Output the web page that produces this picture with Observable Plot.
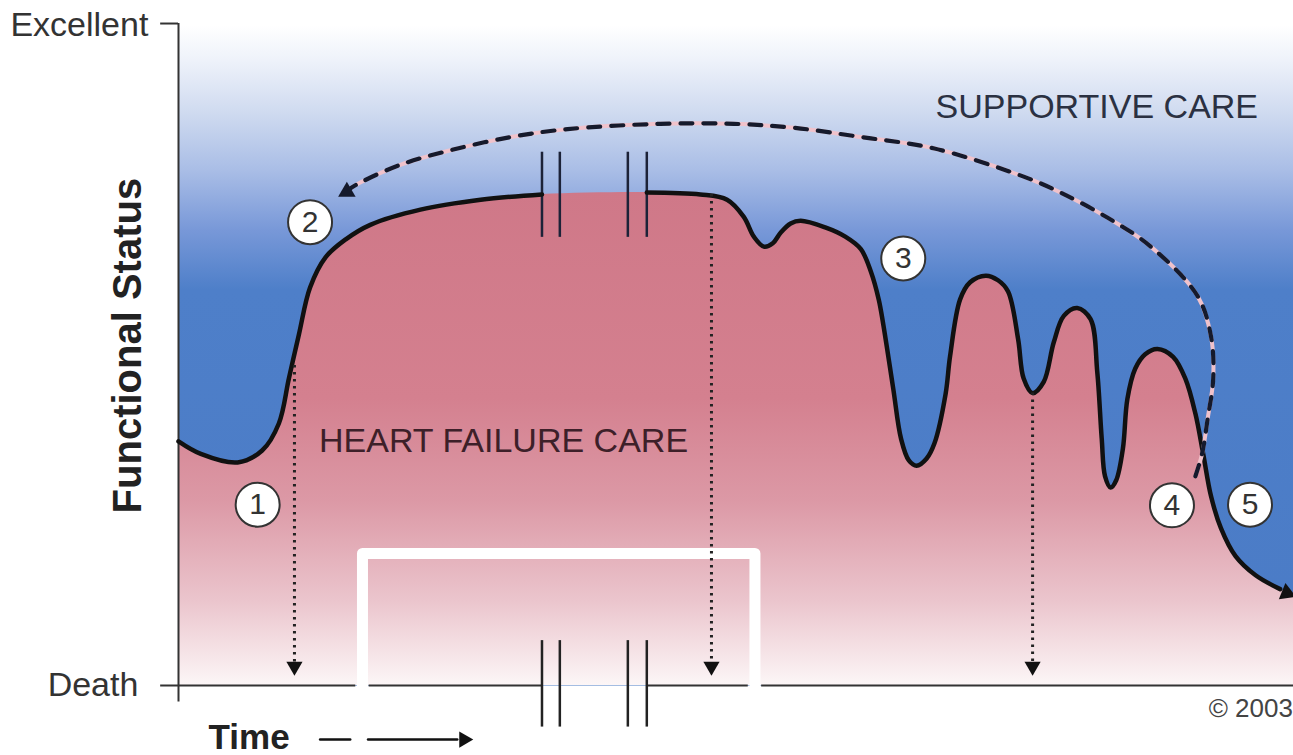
<!DOCTYPE html>
<html><head><meta charset="utf-8">
<script src="https://cdn.jsdelivr.net/npm/d3@7"></script>
<script src="https://cdn.jsdelivr.net/npm/@observablehq/plot@0.6"></script>
<style>html,body{margin:0;padding:0;background:#fff;} #chart svg{display:block;}</style>
</head><body><div id="chart"></div>
<script>
// Functional status trajectory (time 0..100, status 0 = Death .. 100 = Excellent)
const curveTime = [0, 2.0, 5.3, 7.5, 9.0, 9.9, 10.8, 11.8, 13.2, 15.0, 17.2, 21.7, 27.1, 32.6, 42.0, 46.8, 49.2, 50.7, 51.6, 52.5, 53.3, 54.0, 54.9, 55.8, 58.0, 59.8, 61.2, 62.1, 62.8, 63.2, 64.1, 64.8, 65.5, 66.2, 67.1, 67.8, 68.8, 69.2, 70.1, 71.0, 72.4, 73.5, 74.4, 75.3, 75.8, 76.6, 77.6, 78.5, 79.4, 80.6, 81.8, 82.4, 82.8, 83.1, 83.6, 84.1, 84.7, 85.1, 85.8, 86.7, 87.8, 89.2, 90.3, 91.2, 91.9, 92.6, 93.5, 94.8, 96.6, 98.8, 100.0];
const curveStatus = [37.0, 35.1, 33.8, 35.6, 39.7, 46.5, 53.2, 60.3, 64.9, 67.6, 69.8, 72.1, 73.6, 74.4, 74.7, 74.4, 73.6, 71.0, 68.0, 66.5, 67.0, 68.6, 70.0, 70.4, 69.4, 68.0, 66.1, 62.7, 58.5, 54.8, 45.0, 37.4, 34.1, 33.3, 34.4, 36.7, 44.2, 49.9, 58.5, 61.1, 62.1, 61.4, 59.7, 52.5, 46.5, 44.3, 46.0, 52.0, 56.0, 57.2, 55.5, 47.5, 37.4, 31.7, 30.0, 31.1, 35.9, 43.4, 48.0, 50.2, 51.0, 49.8, 46.5, 41.2, 35.1, 28.7, 23.8, 19.6, 16.7, 14.6, 13.7];
// time-axis break (stable period)
const breakTimes = [32.6, 34.2, 40.3, 42.0];
// supportive-care dashed arc
const arcTime = [91.2, 91.8, 92.3, 92.8, 92.6, 91.4, 87.2, 83.3, 79.1, 75.8, 67.7, 61.2, 55.2, 49.8, 43.2, 34.9, 29.8, 24.4, 19.9, 16.3, 15.4];
const arcStatus = [31.7, 35.1, 40.4, 46.5, 52.9, 59.0, 66.5, 70.9, 74.7, 77.1, 81.4, 83.1, 84.5, 85.1, 85.1, 84.3, 83.1, 81.1, 78.9, 76.2, 75.3];
// dotted drops to the time axis
const dropTime = [10.4, 47.8, 76.6];
const dropStatus = [48.5, 74.4, 44.3];
// numbered stages
const stageLabels = ["1", "2", "3", "4", "5"];
const stageTime = [7.1, 11.8, 65.0, 89.1, 96.1];
const stageStatus = [27.4, 70.2, 64.7, 27.3, 27.4];
// y tick labels
const yTickLabels = ["Excellent", "Death"];
const yTickValues = [100, 0];

const curve = curveTime.map((t, i) => ({t, s: curveStatus[i], seg: t <= breakTimes[0] ? "a" : "b"}));
const arc = arcTime.map((t, i) => ({t, s: arcStatus[i]}));
const drops = dropTime.map((t, i) => ({t, s: dropStatus[i]}));
const stages = stageLabels.map((label, i) => ({label, t: stageTime[i], s: stageStatus[i]}));
const ticks = yTickLabels.map((label, i) => ({label, s: yTickValues[i], off: i === 0 ? -2.7 : -3.6}));
const lineCurve = curve.slice(0, -1);
const last = curve[curve.length - 1];
const arcEnd = arc[arc.length - 1];

const font = "'Liberation Sans', Arial, Helvetica, sans-serif";

const plot = Plot.plot({
  width: 1293, height: 755,
  marginLeft: 178, marginRight: 0, marginTop: 25, marginBottom: 70,
  x: {domain: [0, 100], axis: null},
  y: {domain: [0, 100], axis: null},
  style: {fontFamily: font, background: "white", overflow: "visible"},
  marks: [
    Plot.frame({fill: "url(#blueGrad)", stroke: "none"}),
    Plot.areaY(curve, {x: "t", y: "s", fill: "url(#pinkGrad)", curve: "catmull-rom"}),
    // white bracket box
    Plot.line([{t:16.5,s:-1.8},{t:16.5,s:20},{t:51.7,s:20},{t:51.7,s:-1.8}], {x:"t", y:"s", stroke:"white", strokeWidth:11, strokeLinejoin:"round"}),
    // axes
    Plot.ruleX([0], {y1: -2.5, y2: 100.3, stroke: "#333", strokeWidth: 2}),
    Plot.ruleY([100.3], {x1: -1.6, x2: 0, stroke: "#333", strokeWidth: 2}),
    Plot.ruleY([0], {x1: -1.6, x2: 15.9, stroke: "#333", strokeWidth: 2}),
    Plot.ruleY([0], {x1: 17.1, x2: breakTimes[0], stroke: "#333", strokeWidth: 2}),
    Plot.ruleY([0], {x1: breakTimes[3], x2: 51.1, stroke: "#333", strokeWidth: 2}),
    Plot.ruleY([0], {x1: 52.3, x2: 100, stroke: "#333", strokeWidth: 2}),
    Plot.ruleX(breakTimes, {y1: -6.3, y2: 6.8, stroke: "#222", strokeWidth: 2.5}),
    Plot.ruleX(breakTimes, {y1: 67.9, y2: 80.8, stroke: "#1c2238", strokeWidth: 2.5}),
    // main trajectory
    Plot.line(lineCurve, {x: "t", y: "s", z: "seg", stroke: "#111", strokeWidth: 4.5, curve: "catmull-rom", strokeLinecap: "round", strokeLinejoin: "round"}),
    Plot.dot([last], {x: d => d.t - 0.6, y: d => d.s + 0.3, symbol: "triangle", r: 6.5, fill: "#111", stroke: "none", rotate: 112}),
    // dotted drops
    Plot.ruleX(drops, {x: "t", y1: "s", y2: 3.4, stroke: "#222", strokeWidth: 3, strokeDasharray: "2.5,4.5"}),
    Plot.dot(drops, {x: "t", y: 2.9, symbol: "triangle", r: 6, fill: "#111", stroke: "none", rotate: 180}),
    // supportive care arc
    Plot.line(arc, {x: "t", y: "s", stroke: "#f0c2cb", strokeWidth: 4, curve: "catmull-rom"}),
    Plot.line(arc, {x: "t", y: "s", stroke: "#151a2c", strokeWidth: 4.2, strokeDasharray: "12,11", curve: "catmull-rom"}),
    Plot.dot([arcEnd], {x: d => d.t - 0.3, y: d => d.s - 0.5, symbol: "triangle", r: 6.5, fill: "#151a2c", stroke: "none", rotate: 240}),
    // stage markers
    Plot.dot(stages, {x: "t", y: "s", r: 22, fill: "white", stroke: "#333", strokeWidth: 2}),
    Plot.text(stages, {x: "t", y: "s", text: "label", fontSize: 30, fill: "#333"}),
    // region labels
    Plot.text(["SUPPORTIVE CARE"], {x: 67.9, y: 87.7, text: d => d, textAnchor: "start", fontSize: 34, fill: "#2b3142"}),
    Plot.text(["HEART FAILURE CARE"], {x: 12.6, y: 37.0, text: d => d, textAnchor: "start", fontSize: 34, fill: "#3d2029"}),
    // y tick labels & axis titles
    Plot.text(ticks, {x: "off", y: "s", text: "label", textAnchor: "end", fontSize: 34, fill: "#333"}),
    Plot.text(["Functional Status"], {x: -4.5, y: 51.5, text: d => d, rotate: -90, fontWeight: "bold", fontSize: 40, fill: "#222"}),
    Plot.text(["Time"], {x: 2.7, y: -7.9, text: d => d, textAnchor: "start", fontWeight: "bold", fontSize: 35, fill: "#222"}),
    Plot.line([{t:12.7,s:-8.2,k:1},{t:15.4,s:-8.2,k:1},{t:17.0,s:-8.2,k:2},{t:25.0,s:-8.2,k:2}], {x:"t", y:"s", z:"k", stroke:"#111", strokeWidth:2.5}),
    Plot.dot([{t:25.6,s:-8.2}], {x:"t", y:"s", symbol:"triangle", r:6, fill:"#111", stroke:"none", rotate:90}),
    Plot.text(["© 2003"], {x: 99.95, y: -3.5, text: d => d, textAnchor: "end", fontSize: 26, fill: "#444"})
  ]
});

d3.select(plot).insert("defs", ":first-child").html(`
<linearGradient id="blueGrad" gradientUnits="userSpaceOnUse" x1="0" y1="25" x2="0" y2="685">
  <stop offset="0" stop-color="#ffffff"/>
  <stop offset="0.053" stop-color="#eef2fa"/>
  <stop offset="0.13" stop-color="#d0dbf0"/>
  <stop offset="0.22" stop-color="#a9bde6"/>
  <stop offset="0.31" stop-color="#7898d8"/>
  <stop offset="0.40" stop-color="#4e7fc9"/>
  <stop offset="1" stop-color="#4a7bc6"/>
</linearGradient>
<linearGradient id="pinkGrad" gradientUnits="userSpaceOnUse" x1="0" y1="190" x2="0" y2="685">
  <stop offset="0" stop-color="#cf7888"/>
  <stop offset="0.42" stop-color="#d4808f"/>
  <stop offset="0.63" stop-color="#dc99a6"/>
  <stop offset="0.83" stop-color="#ebc5cd"/>
  <stop offset="1" stop-color="#fcf6f7"/>
</linearGradient>`);

document.getElementById("chart").append(plot);
</script>
</body></html>
